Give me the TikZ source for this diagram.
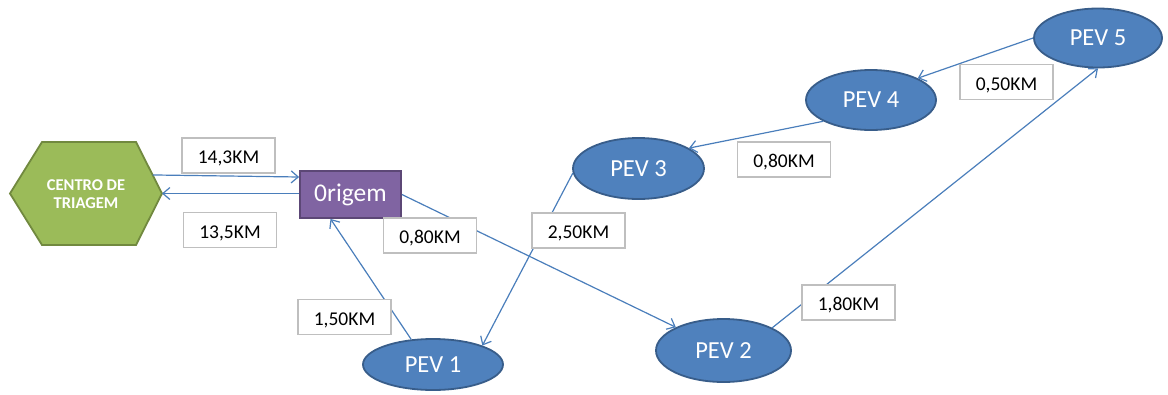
\documentclass[tikz,border=0pt]{standalone}
\usepackage{fontspec}
\setmainfont{Carlito}
\usetikzlibrary{arrows.meta,calc,shapes.geometric}
\definecolor{pevfill}{RGB}{79,129,189}
\definecolor{pevline}{RGB}{56,93,138}
\definecolor{hexfill}{RGB}{155,187,89}
\definecolor{hexline}{RGB}{113,137,63}
\definecolor{orfill}{RGB}{128,100,162}
\definecolor{orline}{RGB}{92,71,118}
\definecolor{wire}{RGB}{74,126,187}
\definecolor{tagline}{RGB}{191,191,191}
\begin{document}
\begin{tikzpicture}[x=1pt,y=-1pt,
  pev/.style={ellipse, draw=pevline, fill=pevfill, line width=1.8pt, inner sep=0pt,
    text=white, font=\fontsize{24.5}{28}\selectfont},
  tag/.style={draw=tagline, fill=white, line width=1.2pt, minimum width=93pt,
    minimum height=35pt, inner sep=0pt, text height=16pt, text depth=0pt,
    font=\fontsize{19.5}{22}\selectfont},
  link/.style={draw=wire, line width=1.2pt, -{Straight Barb[length=7pt,width=12pt]}}]
\useasboundingbox (0,0) rectangle (1168,394);

% sorting centre (hexagon)
\coordinate (hexW)  at (10,193.5);
\coordinate (hexNW) at (42,142);
\coordinate (hexNE) at (136,142);
\coordinate (hexE)  at (162,193.5);
\coordinate (hexSE) at (136,245);
\coordinate (hexSW) at (42,245);
\draw[draw=hexline, fill=hexfill, line width=1.8pt]
  (hexW) -- (hexNW) -- (hexNE) -- (hexE) -- (hexSE) -- (hexSW) -- cycle;
\node[text=white, align=center, font=\bfseries\fontsize{16.5}{18.5}\selectfont] (cdt) at (86,194) {CENTRO DE\\TRIAGEM};
\coordinate (hexOut) at ($(hexNE)!0.64!(hexE)$);

% origin
\node[draw=orline, fill=orfill, line width=1.8pt, minimum width=101pt, minimum height=47pt,
  text=white, font=\fontsize{25.5}{28}\selectfont] (orig) at (350.5,194.5) {0rigem};

% collection points
\node[pev, minimum width=140pt, minimum height=51pt] (pev1) at (433,364.5) {PEV 1};
\node[pev, minimum width=135pt, minimum height=63pt] (pev2) at (723.5,350.5) {PEV 2};
\node[pev, minimum width=131pt, minimum height=61pt] (pev3) at (638.5,168.5) {PEV 3};
\node[pev, minimum width=130pt, minimum height=60pt] (pev4) at (871,100) {PEV 4};
\node[pev, minimum width=128pt, minimum height=59pt] (pev5) at (1098,38) {PEV 5};

% route
\draw[link] (hexOut) -- ([yshift=17.5pt]orig.west);
\draw[link] ([yshift=1pt]orig.west) -- (hexE);
\draw[link] (orig.east) -- (pev2.154);
\draw[link] (pev2.25) -- (pev5.south);
\draw[link] (pev5.west) -- (pev4.25);
\draw[link] (pev4.204) -- (pev3.22);
\draw[link] (pev3.184) -- (pev1.21);
\draw[link] (pev1.131) -- ([xshift=-20pt]orig.south);

% distances
\node[tag] (d143)  at (228.5,155.5) {14,3KM};
\node[tag] (d135)  at (230,230)     {13,5KM};
\node[tag] (d080a) at (430,235.5)   {0,80KM};
\node[tag] (d250)  at (578.5,230.5) {2,50KM};
\node[tag] (d150)  at (344.5,317)   {1,50KM};
\node[tag] (d180)  at (848.5,302.5) {1,80KM};
\node[tag] (d080b) at (784,159.5)   {0,80KM};
\node[tag] (d050)  at (1006.5,82)   {0,50KM};
\end{tikzpicture}
\end{document}
